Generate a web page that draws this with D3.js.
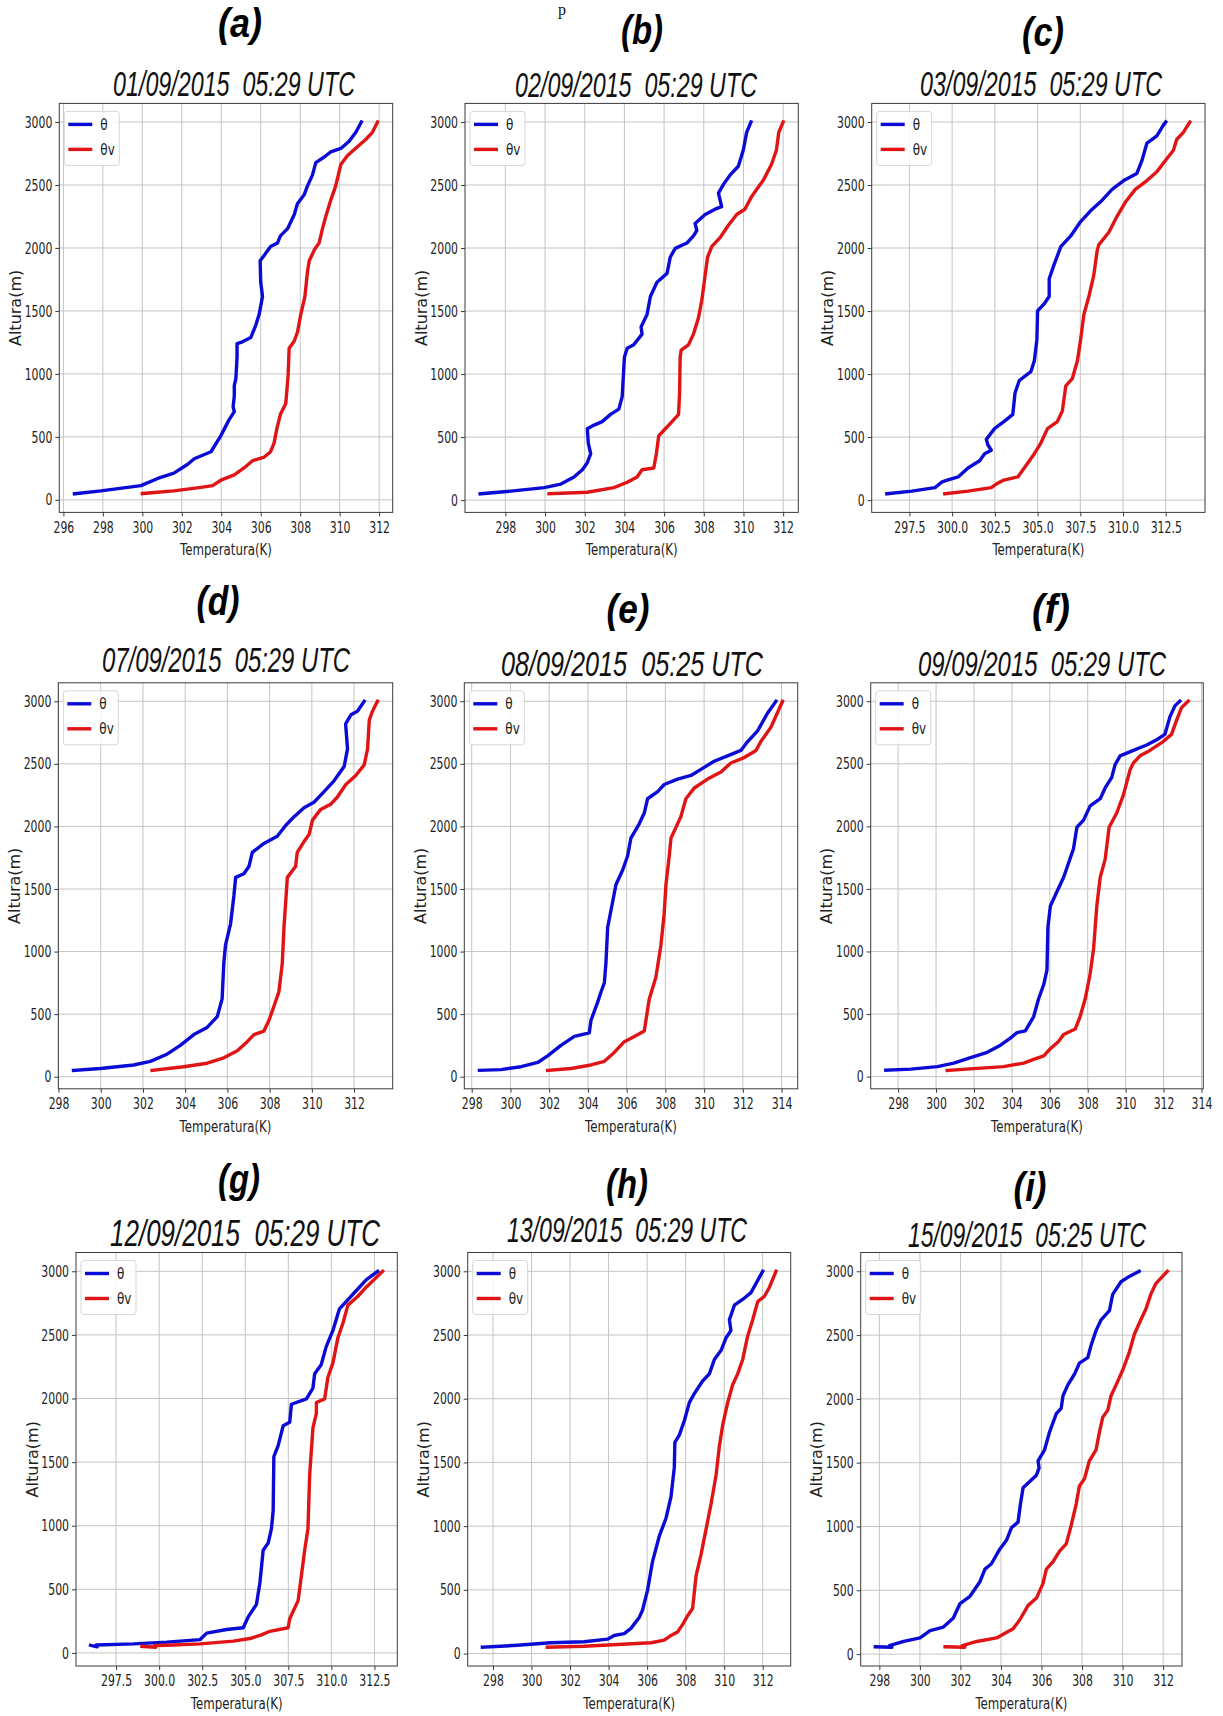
<!DOCTYPE html>
<html><head><meta charset="utf-8">
<script src="https://cdn.jsdelivr.net/npm/d3@7"></script>
<style>body{margin:0;background:#fff}svg{display:block}text{white-space:pre}</style>
</head><body>
<svg id="chart" width="1223" height="1716"></svg>
<script>
// ---------- data ----------
const panelLabels = ["(a)","(b)","(c)","(d)","(e)","(f)","(g)","(h)","(i)"];
const titles = ["01/09/2015  05:29 UTC","02/09/2015  05:29 UTC","03/09/2015  05:29 UTC",
                "07/09/2015  05:29 UTC","08/09/2015  05:25 UTC","09/09/2015  05:29 UTC",
                "12/09/2015  05:29 UTC","13/09/2015  05:29 UTC","15/09/2015  05:25 UTC"];
const seriesNames = ["θ","θv"];
const yTicks = [0,500,1000,1500,2000,2500,3000];
const xTicksA = [296,298,300,302,304,306,308,310,312];
const xTicksB = [298,300,302,304,306,308,310,312];
const xTicksC = [297.5,300,302.5,305,307.5,310,312.5];
const xTicksD = [298,300,302,304,306,308,310,312];
const xTicksE = [298,300,302,304,306,308,310,312,314];
const xTicksF = [298,300,302,304,306,308,310,312,314];
const xTicksG = [297.5,300,302.5,305,307.5,310,312.5];
const xTicksH = [298,300,302,304,306,308,310,312];
const xTicksI = [298,300,302,304,306,308,310,312];

const thetaA = [[296.56,48],[297.9,71],[299.93,113],[300.78,170],[301.6,212],[302.3,283],[302.63,326],[303.48,382],[303.98,510],[304.4,637],[304.66,700],[304.6,740],[304.66,822],[304.66,907],[304.74,963],[304.8,1133],[304.8,1240],[305.0,1250],[305.5,1289],[305.75,1388],[305.92,1473],[306.09,1615],[306.0,1728],[305.97,1898],[306.17,1940],[306.5,2011],[306.85,2040],[307.0,2096],[307.36,2153],[307.7,2266],[307.86,2351],[308.2,2422],[308.37,2493],[308.62,2578],[308.79,2677],[309.2,2720],[309.55,2762],[310.06,2790],[310.48,2847],[310.82,2918],[311.1,3000]];
const thetavA = [[300.0,50],[301.6,71],[302.97,99],[303.56,113],[303.98,156],[304.66,198],[305.17,255],[305.6,312],[306.18,340],[306.5,382],[306.68,453],[306.82,567],[307.0,680],[307.27,765],[307.39,991],[307.44,1204],[307.7,1261],[307.86,1331],[308.03,1473],[308.24,1615],[308.37,1813],[308.46,1898],[308.71,1983],[308.96,2040],[309.13,2153],[309.3,2252],[309.55,2380],[309.8,2493],[310.06,2663],[310.4,2734],[310.9,2804],[311.32,2861],[311.66,2918],[311.92,3000]];

const thetaB = [[296.73,50],[298.28,71],[299.96,99],[300.8,127],[301.46,184],[301.88,241],[302.13,297],[302.3,368],[302.18,453],[302.13,567],[302.47,595],[302.88,623],[303.3,680],[303.72,722],[303.89,822],[304.0,1133],[304.14,1204],[304.47,1232],[304.89,1317],[304.84,1374],[305.14,1473],[305.31,1615],[305.64,1728],[306.15,1799],[306.31,1927],[306.56,1997],[307.15,2040],[307.48,2096],[307.65,2139],[307.56,2195],[308.07,2266],[308.57,2308],[308.9,2328],[308.74,2436],[309.0,2507],[309.32,2578],[309.74,2649],[309.99,2776],[310.16,2918],[310.38,3000]];
const thetavB = [[300.2,50],[302.13,62],[303.47,99],[304.14,142],[304.64,184],[304.89,241],[305.48,255],[305.61,368],[305.73,510],[305.98,552],[306.4,623],[306.73,680],[306.78,850],[306.81,1133],[306.86,1190],[307.23,1232],[307.48,1317],[307.73,1445],[307.9,1586],[308.07,1785],[308.19,1927],[308.4,2011],[308.82,2082],[309.24,2181],[309.66,2266],[310.07,2308],[310.41,2408],[310.66,2465],[310.99,2535],[311.41,2663],[311.66,2776],[311.78,2918],[312.0,3000]];

const thetaC = [[296.18,50],[297.64,71],[299.0,99],[299.38,142],[299.67,156],[300.35,184],[300.93,255],[301.61,312],[301.9,368],[302.29,396],[302.09,439],[302.0,482],[302.48,567],[303.16,637],[303.55,680],[303.68,850],[303.93,949],[304.61,1020],[304.81,1105],[304.96,1275],[305.0,1501],[305.39,1558],[305.68,1615],[305.68,1756],[305.97,1870],[306.36,2011],[306.94,2096],[307.52,2210],[308.1,2295],[308.78,2380],[309.36,2465],[310.04,2535],[310.81,2592],[311.1,2691],[311.4,2833],[311.98,2890],[312.36,2975],[312.5,3000]];
const thetavC = [[299.57,50],[300.93,71],[302.29,99],[302.58,127],[302.97,156],[303.84,184],[304.22,255],[304.81,368],[305.19,453],[305.58,567],[306.16,623],[306.45,708],[306.65,906],[307.03,963],[307.33,1105],[307.52,1275],[307.71,1473],[308.0,1615],[308.29,1785],[308.49,1983],[308.58,2025],[309.17,2125],[309.65,2252],[310.14,2365],[310.72,2465],[311.4,2535],[311.98,2606],[312.46,2691],[312.95,2776],[313.14,2861],[313.53,2918],[313.91,3000]];

const thetaD = [[298.71,51],[299.98,66],[301.56,94],[302.35,123],[303.14,180],[303.77,251],[304.41,337],[305.04,394],[305.52,480],[305.75,622],[305.83,908],[305.91,1051],[306.15,1222],[306.31,1450],[306.39,1593],[306.78,1622],[307.02,1679],[307.18,1793],[307.73,1864],[308.36,1921],[308.76,2007],[309.16,2078],[309.63,2150],[310.1,2193],[310.58,2278],[311.05,2364],[311.53,2478],[311.69,2620],[311.6,2820],[311.85,2892],[312.16,2920],[312.48,3000]];
const thetavD = [[302.43,51],[303.93,80],[305.04,108],[305.83,151],[306.47,208],[306.94,280],[307.26,337],[307.73,365],[307.97,451],[308.21,565],[308.44,679],[308.6,908],[308.68,1193],[308.84,1593],[309.23,1679],[309.31,1793],[309.63,1879],[309.87,1936],[310.03,2050],[310.42,2136],[310.9,2178],[311.21,2235],[311.61,2335],[312.08,2407],[312.48,2492],[312.64,2620],[312.72,2849],[312.87,2920],[313.11,3000]];

const thetaE = [[298.4,51],[299.51,57],[300.55,80],[301.41,114],[301.92,166],[302.61,251],[303.3,322],[304.07,351],[304.16,451],[304.5,594],[304.68,679],[304.85,751],[304.93,908],[305.02,1193],[305.2,1336],[305.45,1536],[305.79,1650],[306.05,1764],[306.22,1907],[306.65,2021],[306.91,2107],[307.08,2221],[307.6,2278],[307.94,2335],[308.63,2378],[309.32,2407],[309.92,2464],[310.52,2521],[311.21,2564],[311.9,2607],[312.25,2678],[312.76,2763],[313.28,2906],[313.71,3000]];
const thetavE = [[301.92,51],[303.13,66],[304.16,94],[304.85,123],[305.36,194],[305.88,280],[306.4,322],[306.91,365],[307.17,622],[307.51,794],[307.77,1051],[307.94,1307],[308.03,1536],[308.2,1764],[308.29,1907],[308.55,1993],[308.8,2078],[309.06,2221],[309.49,2307],[310.18,2378],[310.87,2435],[311.38,2507],[312.07,2550],[312.68,2607],[312.93,2678],[313.45,2792],[314.05,3000]];

const thetaF = [[297.35,51],[298.67,60],[300.07,80],[300.94,108],[301.82,151],[302.7,194],[303.4,251],[303.92,308],[304.27,351],[304.71,365],[305.15,480],[305.41,622],[305.68,736],[305.85,851],[305.9,1193],[306.03,1364],[306.38,1479],[306.73,1593],[306.99,1707],[307.25,1821],[307.43,1993],[307.78,2050],[308.13,2164],[308.66,2221],[308.92,2307],[309.27,2392],[309.44,2492],[309.71,2564],[310.41,2607],[311.11,2650],[311.64,2692],[312.07,2735],[312.34,2877],[312.6,2963],[312.86,3000]];
const thetavF = [[300.59,50],[302.17,66],[303.57,80],[304.62,108],[305.15,137],[305.68,166],[306.03,223],[306.46,280],[306.73,337],[307.34,380],[307.6,480],[307.87,622],[308.13,822],[308.31,1022],[308.48,1364],[308.66,1593],[308.92,1736],[309.13,1993],[309.53,2107],[309.88,2250],[310.23,2450],[310.41,2507],[310.76,2564],[311.28,2607],[311.98,2678],[312.42,2735],[312.69,2849],[312.95,2949],[313.3,3000]];

const thetaG = [[296.02,60],[296.4,48],[296.35,62],[298.52,71],[300.45,85],[302.38,105],[302.76,156],[303.92,184],[304.88,198],[305.17,283],[305.65,382],[305.85,552],[306.04,807],[306.33,864],[306.52,977],[306.62,1119],[306.66,1544],[306.91,1629],[307.2,1785],[307.58,1813],[307.68,1955],[308.55,1997],[308.93,2082],[309.03,2195],[309.41,2266],[309.7,2408],[310.09,2535],[310.47,2705],[310.86,2762],[311.44,2847],[312.02,2932],[312.69,3000]];
const thetavG = [[299.0,52],[299.8,45],[299.75,58],[300.45,60],[302.38,71],[304.31,93],[305.27,113],[305.94,142],[306.43,170],[307.49,198],[307.58,269],[308.07,411],[308.26,609],[308.45,807],[308.64,977],[308.74,1402],[308.93,1770],[309.13,1883],[309.13,1969],[309.61,1997],[309.8,2167],[310.09,2280],[310.38,2478],[310.67,2592],[310.96,2734],[311.54,2804],[312.02,2875],[312.98,3000]];

const thetaH = [[297.45,50],[299.26,65],[301.0,85],[302.73,93],[303.94,113],[304.29,142],[304.81,156],[305.16,198],[305.59,283],[305.76,340],[306.02,496],[306.28,722],[306.63,921],[306.98,1062],[307.24,1232],[307.41,1459],[307.44,1657],[307.67,1714],[307.93,1827],[308.19,1969],[308.45,2040],[308.88,2139],[309.23,2195],[309.49,2308],[309.84,2380],[310.1,2479],[310.35,2535],[310.27,2620],[310.53,2734],[311.05,2790],[311.39,2833],[312.0,3000]];
const thetavH = [[300.82,50],[302.73,57],[304.46,71],[306.2,85],[306.89,105],[307.24,142],[307.58,170],[307.84,227],[308.1,297],[308.36,354],[308.54,609],[308.8,779],[309.06,977],[309.32,1176],[309.58,1402],[309.75,1629],[309.93,1799],[310.18,1969],[310.44,2110],[310.7,2195],[310.96,2308],[311.22,2493],[311.48,2620],[311.74,2762],[312.09,2804],[312.35,2875],[312.69,3000]];

const thetaI = [[297.8,57],[298.62,54],[298.5,66],[299.2,99],[300.01,127],[300.5,184],[301.16,212],[301.65,283],[301.98,396],[302.47,453],[302.96,567],[303.21,666],[303.53,708],[303.94,822],[304.27,892],[304.52,991],[304.84,1034],[304.96,1176],[305.09,1303],[305.75,1402],[305.88,1459],[305.83,1515],[306.15,1601],[306.4,1742],[306.73,1884],[306.97,1926],[307.06,2025],[307.3,2110],[307.63,2195],[307.87,2280],[308.28,2323],[308.45,2422],[308.69,2535],[308.94,2620],[309.35,2691],[309.51,2819],[309.92,2918],[310.33,2960],[310.82,3000]];
const thetavI = [[301.24,57],[302.22,54],[302.1,67],[302.8,99],[303.78,127],[304.11,156],[304.6,198],[304.93,269],[305.34,382],[305.75,439],[306.07,552],[306.24,666],[306.56,722],[306.89,807],[307.22,864],[307.46,1006],[307.71,1176],[307.87,1317],[308.12,1374],[308.36,1515],[308.69,1601],[308.86,1742],[309.02,1856],[309.27,1912],[309.43,2025],[309.68,2110],[310.0,2224],[310.33,2365],[310.58,2507],[310.9,2620],[311.15,2705],[311.39,2819],[311.64,2904],[311.97,2960],[312.21,3000]];

// ---------- layout (pixel positions) ----------
const rows = [{t:103.4,b:512.4},{t:682.8,b:1088.8},{t:1252.5,b:1666}];
const layout = [
  {row:0,l:59.3,r:392.7, lab:[240,27,44],  tit:[234,83,242,36]},
  {row:0,l:465,r:798.3,  lab:[642,34,42],  tit:[636,84,242,36]},
  {row:0,l:871.7,r:1205, lab:[1043,36,42], tit:[1041,83,242,36]},
  {row:1,l:58.3,r:392.7, lab:[218,605,43], tit:[226,659,248,36]},
  {row:1,l:464.3,r:797.7,lab:[628,613,43], tit:[632,663,262,36]},
  {row:1,l:870.7,r:1203.3,lab:[1051,613,38],tit:[1042,663,248,36]},
  {row:2,l:76,r:397.3,   lab:[239,1183,42],tit:[245,1233,270,37]},
  {row:2,l:467.7,r:790.7,lab:[627,1188,42],tit:[627,1229,240,36]},
  {row:2,l:860.7,r:1182, lab:[1030,1191,33],tit:[1027,1234,238,36]}
];
const xTicksAll = [xTicksA,xTicksB,xTicksC,xTicksD,xTicksE,xTicksF,xTicksG,xTicksH,xTicksI];
const thetaAll = [thetaA,thetaB,thetaC,thetaD,thetaE,thetaF,thetaG,thetaH,thetaI];
const thetavAll = [thetavA,thetavB,thetavC,thetavD,thetavE,thetavF,thetavG,thetavH,thetavI];
const colors = ["#0b0bd6","#e01414"];

const svg = d3.select("#chart");
svg.append("rect").attr("width",1223).attr("height",1716).attr("fill","#fff");

// stray text fragment at top of source image
svg.append("text").attr("x",562).attr("y",15).attr("text-anchor","middle")
  .attr("font-family","Liberation Serif, serif").attr("font-size",16).attr("fill","#111").text("p");

// place a text centred at (cx, baseline) squeezed horizontally to a target width
function fitText(parent, str, cx, base, width, attrs){
  const g = parent.append("g");
  const t = g.append("text").attr("x",0).attr("y",0).attr("text-anchor","middle").text(str);
  Object.entries(attrs).forEach(([k,v])=>t.attr(k,v));
  const w = t.node().getComputedTextLength();
  g.attr("transform",`translate(${cx},${base}) scale(${width/w},1)`);
  return g;
}

const SX = 0.68; // horizontal squeeze of the source figure text

layout.forEach((L,i)=>{
  const R = rows[L.row];
  const all = thetaAll[i].concat(thetavAll[i]);
  const [xmin,xmax] = d3.extent(all,d=>d[0]);
  const [ymin,ymax] = d3.extent(all,d=>d[1]);
  const mx = (xmax-xmin)*0.05, my=(ymax-ymin)*0.05;
  const x = d3.scaleLinear().domain([xmin-mx,xmax+mx]).range([L.l,L.r]);
  const y = d3.scaleLinear().domain([ymin-my,ymax+my]).range([R.b,R.t]);
  const g = svg.append("g");

  // panel label
  fitText(g, panelLabels[i], L.lab[0], L.lab[1]+10.4, L.lab[2],
    {"font-family":"Liberation Sans, Arial, sans-serif","font-weight":"bold","font-style":"italic","font-size":40,"fill":"#000"});
  // title
  fitText(g, titles[i], L.tit[0], L.tit[1]+0.358*L.tit[3], L.tit[2],
    {"font-family":"Liberation Sans, Arial, sans-serif","font-style":"italic","font-size":L.tit[3],"fill":"#111"});

  // grid
  g.append("g").selectAll("line").data(xTicksAll[i]).join("line")
    .attr("x1",d=>x(d)).attr("x2",d=>x(d)).attr("y1",R.t).attr("y2",R.b)
    .attr("stroke","#c4c4c4").attr("stroke-width",1);
  g.append("g").selectAll("line").data(yTicks).join("line")
    .attr("x1",L.l).attr("x2",L.r).attr("y1",d=>y(d)).attr("y2",d=>y(d))
    .attr("stroke","#c4c4c4").attr("stroke-width",1);

  // lines
  const line = d3.line().x(d=>x(d[0])).y(d=>y(d[1]));
  [thetaAll[i],thetavAll[i]].forEach((s,k)=>{
    g.append("path").datum(s).attr("d",line).attr("fill","none")
      .attr("stroke",colors[k]).attr("stroke-width",3.4)
      .attr("stroke-linejoin","round").attr("stroke-linecap","square");
  });

  // frame
  g.append("rect").attr("x",L.l).attr("y",R.t).attr("width",L.r-L.l).attr("height",R.b-R.t)
    .attr("fill","none").attr("stroke","#3a3a3a").attr("stroke-width",1);

  // axes
  const fmt = xTicksAll[i].some(v=>v%1!==0) ? d3.format(".1f") : d3.format("d");
  const xa = g.append("g").attr("transform",`translate(0,${R.b})`)
    .call(d3.axisBottom(x).tickValues(xTicksAll[i]).tickFormat(fmt).tickSize(4).tickSizeOuter(0).tickPadding(5));
  const ya = g.append("g").attr("transform",`translate(${L.l},0)`)
    .call(d3.axisLeft(y).tickValues(yTicks).tickFormat(d3.format("d")).tickSize(4).tickSizeOuter(0).tickPadding(3));
  [xa,ya].forEach(a=>{
    a.select(".domain").remove();
    a.selectAll(".tick line").attr("stroke","#3a3a3a");
    a.selectAll(".tick text").attr("font-family","DejaVu Sans, sans-serif").attr("font-size",16).attr("fill","#222");
  });
  xa.selectAll(".tick text").attr("transform",`scale(${SX},1)`);
  ya.selectAll(".tick text").attr("x",-7/SX).attr("transform",`scale(${SX},1)`);

  // axis labels
  fitText(g, "Temperatura(K)", (L.l+L.r)/2, R.b+43, 92,
    {"font-family":"DejaVu Sans, sans-serif","font-size":16,"fill":"#222"});
  g.append("text").attr("transform",`translate(${L.l-44},${(R.t+R.b)/2}) rotate(-90)`)
    .attr("text-anchor","middle").attr("dy","0.35em")
    .attr("font-family","DejaVu Sans, sans-serif").attr("font-size",16).attr("fill","#222")
    .text("Altura(m)");

  // legend
  const lg = g.append("g").attr("transform",`translate(${L.l+5},${R.t+8})`);
  lg.append("rect").attr("width",55).attr("height",54).attr("rx",3)
    .attr("fill","#fff").attr("fill-opacity",0.85).attr("stroke","#d6d6d6");
  seriesNames.forEach((n,k)=>{
    const yy = 13 + k*25;
    lg.append("line").attr("x1",4).attr("x2",28).attr("y1",yy).attr("y2",yy)
      .attr("stroke",colors[k]).attr("stroke-width",3.4);
    lg.append("text").attr("x",36/0.8).attr("y",yy).attr("dy","0.35em")
      .attr("transform","scale(0.8,1)")
      .attr("font-family","DejaVu Sans, sans-serif").attr("font-size",15).attr("fill","#222").text(n);
  });
});
</script>
</body></html>
